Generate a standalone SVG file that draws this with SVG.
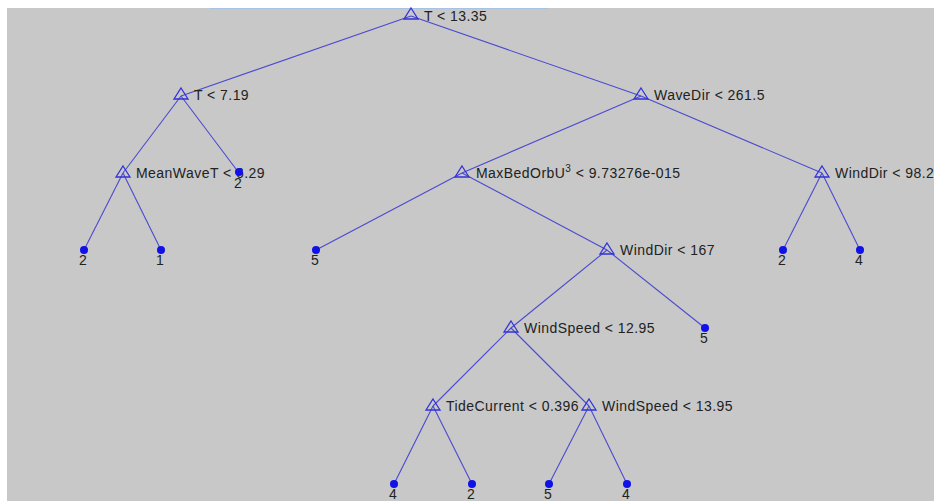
<svg xmlns="http://www.w3.org/2000/svg" width="934" height="501" viewBox="0 0 934 501">
<style>
.e{stroke:#4a4ad0;stroke-width:1.1;fill:none}
.t{stroke:#3232d8;stroke-width:1.3;fill:none}
.d{fill:#1010e8}
.l{font-family:"Liberation Sans",Arial,sans-serif;font-size:14px;letter-spacing:0.45px;fill:#222}
.n{font-family:"Liberation Sans",Arial,sans-serif;font-size:14px;fill:#222;text-anchor:middle}
</style>
<defs>
<path id="tri" class="t" d="M0,-7 L7,4 L-7,4 Z"/>
<circle id="dot" class="d" r="4"/>
</defs>
<rect width="934" height="501" fill="#c8c8c8"/>
<rect width="934" height="8" fill="#fff"/>
<rect width="7" height="501" fill="#fff"/>
<line x1="210" y1="8.5" x2="548" y2="8.5" stroke="#a9c2e2" stroke-width="1"/>
<g id="connectors">
<line class="e" x1="411" y1="16" x2="181" y2="96"/>
<line class="e" x1="411" y1="16" x2="641" y2="96"/>
<line class="e" x1="181" y1="96" x2="123" y2="173"/>
<line class="e" x1="181" y1="96" x2="239" y2="173"/>
<line class="e" x1="123" y1="173" x2="84" y2="250"/>
<line class="e" x1="123" y1="173" x2="161" y2="250"/>
<line class="e" x1="641" y1="96" x2="462" y2="173"/>
<line class="e" x1="641" y1="96" x2="822" y2="173"/>
<line class="e" x1="462" y1="173" x2="316" y2="250"/>
<line class="e" x1="462" y1="173" x2="607" y2="250"/>
<line class="e" x1="822" y1="173" x2="783" y2="250"/>
<line class="e" x1="822" y1="173" x2="860" y2="250"/>
<line class="e" x1="607" y1="250" x2="511" y2="328"/>
<line class="e" x1="607" y1="250" x2="705" y2="328"/>
<line class="e" x1="511" y1="328" x2="433" y2="406"/>
<line class="e" x1="511" y1="328" x2="589" y2="406"/>
<line class="e" x1="433" y1="406" x2="394" y2="484"/>
<line class="e" x1="433" y1="406" x2="472" y2="484"/>
<line class="e" x1="589" y1="406" x2="549" y2="484"/>
<line class="e" x1="589" y1="406" x2="627" y2="484"/>
</g>
<g id="n_root"><use href="#tri" x="411" y="15"/><text class="l" x="424" y="21">T &lt; 13.35</text></g>
<g id="n_t719"><use href="#tri" x="181" y="95"/><text class="l" x="194" y="100">T &lt; 7.19</text></g>
<g id="n_meanwave"><use href="#tri" x="123" y="173"/><text class="l" x="136" y="178">MeanWaveT &lt; 6.29</text></g>
<g id="n_wavedir"><use href="#tri" x="641" y="95"/><text class="l" x="654" y="100">WaveDir &lt; 261.5</text></g>
<g id="n_maxbed"><use href="#tri" x="462" y="173"/><text class="l" x="476" y="178">MaxBedOrbU<tspan font-size="10" dy="-6">3</tspan><tspan dy="6"> &lt; 9.73276e-015</tspan></text></g>
<g id="n_winddir98"><use href="#tri" x="822" y="173"/><text class="l" x="835" y="178">WindDir &lt; 98.2</text></g>
<g id="n_winddir167"><use href="#tri" x="607" y="250"/><text class="l" x="620" y="255">WindDir &lt; 167</text></g>
<g id="n_ws1295"><use href="#tri" x="511" y="328"/><text class="l" x="524" y="333">WindSpeed &lt; 12.95</text></g>
<g id="n_tide"><use href="#tri" x="433" y="406"/><text class="l" x="446" y="411">TideCurrent &lt; 0.396</text></g>
<g id="n_ws1395"><use href="#tri" x="589" y="406"/><text class="l" x="602" y="411">WindSpeed &lt; 13.95</text></g>
<g id="leaf_a"><use href="#dot" x="239" y="172"/><text class="n" x="238" y="188">2</text></g>
<g id="leaf_b"><use href="#dot" x="84" y="250"/><text class="n" x="83" y="265">2</text></g>
<g id="leaf_c"><use href="#dot" x="161" y="250"/><text class="n" x="160" y="265">1</text></g>
<g id="leaf_d"><use href="#dot" x="316" y="250"/><text class="n" x="315" y="265">5</text></g>
<g id="leaf_e"><use href="#dot" x="783" y="250"/><text class="n" x="782" y="265">2</text></g>
<g id="leaf_f"><use href="#dot" x="860" y="250"/><text class="n" x="859" y="265">4</text></g>
<g id="leaf_g"><use href="#dot" x="705" y="328"/><text class="n" x="704" y="343">5</text></g>
<g id="leaf_h"><use href="#dot" x="394" y="484"/><text class="n" x="393" y="499">4</text></g>
<g id="leaf_i"><use href="#dot" x="472" y="484"/><text class="n" x="471" y="499">2</text></g>
<g id="leaf_j"><use href="#dot" x="549" y="484"/><text class="n" x="548" y="499">5</text></g>
<g id="leaf_k"><use href="#dot" x="627" y="484"/><text class="n" x="626" y="499">4</text></g>
</svg>
